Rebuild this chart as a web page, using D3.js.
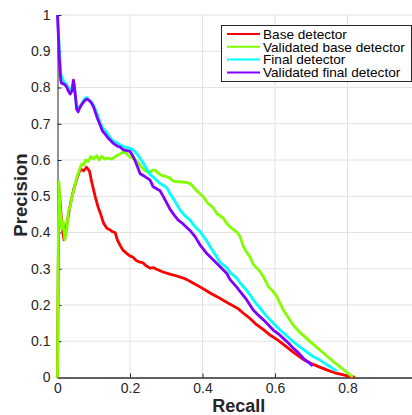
<!DOCTYPE html>
<html><head><meta charset="utf-8">
<script src="https://cdn.jsdelivr.net/npm/d3@7"></script>
<style>
html,body{margin:0;padding:0;background:#fff;}
svg{display:block;font-family:"Liberation Sans",Arial,Helvetica,sans-serif;}
</style></head>
<body>
<svg id="chart" width="412" height="415"></svg>
<script>
const seriesNames = ["Base detector","Validated base detector","Final detector","Validated final detector"];
const seriesColors = ["#ff0000","#80ff00","#00ffff","#8000ff"];

const baseDetector = [[0,0],[0.002,0.3],[0.004,0.52],[0.006,0.5],[0.012,0.42],[0.018,0.38],[0.022,0.4],[0.027,0.43],[0.032,0.46],[0.038,0.49],[0.045,0.52],[0.054,0.55],[0.063,0.575],[0.072,0.57],[0.08,0.58],[0.088,0.57],[0.095,0.537],[0.104,0.499],[0.112,0.47],[0.118,0.454],[0.127,0.426],[0.136,0.412],[0.145,0.407],[0.152,0.402],[0.159,0.4],[0.165,0.38],[0.172,0.366],[0.18,0.352],[0.19,0.343],[0.2,0.335],[0.208,0.332],[0.218,0.322],[0.228,0.318],[0.236,0.316],[0.245,0.308],[0.255,0.302],[0.265,0.303],[0.275,0.298],[0.291,0.291],[0.31,0.285],[0.329,0.28],[0.345,0.275],[0.357,0.27],[0.375,0.26],[0.393,0.25],[0.41,0.24],[0.421,0.233],[0.44,0.223],[0.457,0.213],[0.475,0.203],[0.498,0.19],[0.512,0.178],[0.531,0.163],[0.55,0.145],[0.568,0.132],[0.585,0.118],[0.605,0.105],[0.625,0.09],[0.65,0.07],[0.675,0.052],[0.697,0.04],[0.72,0.03],[0.743,0.021],[0.765,0.013],[0.789,0.007],[0.805,0.003],[0.82,0.001]];

const validatedBaseDetector = [[0,0],[0.002,0.35],[0.004,0.54],[0.007,0.47],[0.012,0.41],[0.016,0.43],[0.02,0.38],[0.024,0.4],[0.026,0.41],[0.03,0.46],[0.035,0.47],[0.038,0.49],[0.045,0.517],[0.054,0.554],[0.063,0.58],[0.068,0.59],[0.072,0.586],[0.078,0.6],[0.085,0.596],[0.092,0.61],[0.1,0.603],[0.108,0.612],[0.115,0.6],[0.122,0.61],[0.13,0.603],[0.14,0.605],[0.15,0.602],[0.16,0.61],[0.17,0.615],[0.18,0.622],[0.19,0.618],[0.2,0.608],[0.209,0.605],[0.218,0.598],[0.228,0.585],[0.237,0.575],[0.246,0.568],[0.255,0.565],[0.262,0.572],[0.269,0.572],[0.28,0.562],[0.291,0.556],[0.301,0.554],[0.31,0.55],[0.319,0.542],[0.33,0.54],[0.338,0.54],[0.356,0.538],[0.366,0.535],[0.375,0.526],[0.384,0.515],[0.393,0.507],[0.402,0.499],[0.415,0.48],[0.43,0.468],[0.439,0.453],[0.457,0.44],[0.467,0.425],[0.48,0.412],[0.494,0.402],[0.503,0.39],[0.513,0.361],[0.522,0.345],[0.531,0.333],[0.54,0.312],[0.559,0.292],[0.568,0.278],[0.582,0.25],[0.595,0.237],[0.605,0.223],[0.623,0.186],[0.637,0.165],[0.65,0.145],[0.668,0.125],[0.687,0.108],[0.705,0.092],[0.724,0.076],[0.742,0.06],[0.761,0.044],[0.785,0.025],[0.807,0.007],[0.815,0.002]];

const finalDetector = [[0,1],[0.003,0.95],[0.005,0.9],[0.007,0.88],[0.009,0.84],[0.011,0.83],[0.016,0.82],[0.02,0.81],[0.025,0.81],[0.03,0.795],[0.034,0.79],[0.04,0.8],[0.044,0.818],[0.048,0.79],[0.053,0.74],[0.058,0.745],[0.067,0.755],[0.075,0.77],[0.08,0.772],[0.088,0.765],[0.094,0.76],[0.1,0.75],[0.106,0.735],[0.112,0.72],[0.117,0.705],[0.124,0.69],[0.131,0.682],[0.14,0.67],[0.15,0.655],[0.163,0.648],[0.172,0.642],[0.185,0.636],[0.2,0.632],[0.209,0.628],[0.218,0.618],[0.228,0.605],[0.237,0.591],[0.246,0.575],[0.255,0.56],[0.264,0.553],[0.283,0.535],[0.301,0.525],[0.31,0.508],[0.322,0.49],[0.338,0.462],[0.35,0.448],[0.366,0.434],[0.38,0.415],[0.393,0.403],[0.411,0.378],[0.421,0.361],[0.439,0.333],[0.448,0.318],[0.467,0.303],[0.476,0.29],[0.494,0.275],[0.503,0.262],[0.522,0.24],[0.531,0.228],[0.545,0.208],[0.559,0.191],[0.572,0.175],[0.586,0.159],[0.6,0.145],[0.614,0.131],[0.632,0.115],[0.65,0.099],[0.668,0.085],[0.687,0.071],[0.705,0.058],[0.724,0.048],[0.742,0.036],[0.755,0.028],[0.77,0.018]];

const validatedFinalDetector = [[0,1],[0.003,0.93],[0.005,0.88],[0.007,0.848],[0.009,0.82],[0.011,0.812],[0.016,0.81],[0.02,0.808],[0.025,0.802],[0.03,0.79],[0.035,0.782],[0.04,0.79],[0.044,0.82],[0.047,0.8],[0.05,0.77],[0.053,0.74],[0.057,0.733],[0.062,0.745],[0.068,0.755],[0.076,0.765],[0.082,0.768],[0.09,0.762],[0.095,0.755],[0.1,0.745],[0.105,0.73],[0.11,0.715],[0.117,0.698],[0.124,0.68],[0.131,0.672],[0.14,0.66],[0.145,0.655],[0.155,0.645],[0.165,0.638],[0.172,0.636],[0.182,0.628],[0.2,0.624],[0.209,0.609],[0.214,0.598],[0.222,0.578],[0.228,0.562],[0.24,0.555],[0.255,0.545],[0.264,0.526],[0.283,0.515],[0.292,0.499],[0.31,0.465],[0.322,0.448],[0.333,0.434],[0.345,0.425],[0.366,0.405],[0.38,0.388],[0.393,0.366],[0.411,0.343],[0.421,0.333],[0.439,0.315],[0.448,0.306],[0.467,0.287],[0.476,0.27],[0.494,0.25],[0.503,0.238],[0.522,0.214],[0.54,0.186],[0.554,0.172],[0.568,0.159],[0.582,0.145],[0.595,0.131],[0.61,0.12],[0.623,0.108],[0.637,0.095],[0.65,0.081],[0.665,0.068],[0.678,0.053],[0.692,0.042],[0.704,0.032]];

const xTicks = [0,0.2,0.4,0.6,0.8];
const yTicks = [0,0.1,0.2,0.3,0.4,0.5,0.6,0.7,0.8,0.9,1];
const xGrid = [0.2,0.4,0.6,0.8,1];
const yGrid = [0.1,0.2,0.3,0.4,0.5,0.6,0.7,0.8,0.9,1];
const xLabel = "Recall", yLabel = "Precision";

const allSeries = [baseDetector, validatedBaseDetector, finalDetector, validatedFinalDetector];

const svg = d3.select("#chart");
const x = d3.scaleLinear().domain([0,1]).range([57.5,420]);
const y = d3.scaleLinear().domain([0,1]).range([377.5,15]);

// grid
const g = svg.append("g");
g.selectAll("line.vg").data(xGrid).join("line")
  .attr("x1",d=>x(d)).attr("x2",d=>x(d)).attr("y1",y(0)).attr("y2",y(1))
  .attr("stroke","#e2e2e2").attr("stroke-width",1);
g.selectAll("line.hg").data(yGrid).join("line")
  .attr("x1",x(0)).attr("x2",x(1)).attr("y1",d=>y(d)).attr("y2",d=>y(d))
  .attr("stroke","#e2e2e2").attr("stroke-width",1);

// axes
const yAxis = svg.append("g").attr("transform",`translate(${x(0)},0)`)
  .call(d3.axisLeft(y).tickValues(yTicks).tickFormat(d3.format("~g")).tickSizeInner(-4).tickSizeOuter(0).tickPadding(7));
const xAxis = svg.append("g").attr("transform",`translate(0,${y(0)})`)
  .call(d3.axisBottom(x).tickValues(xTicks).tickFormat(d3.format("~g")).tickSizeInner(-4).tickSizeOuter(0).tickPadding(6));
[yAxis,xAxis].forEach(a=>{
  a.selectAll("text").attr("font-size",14).attr("fill","#262626").attr("font-family",'"Liberation Sans",Arial,sans-serif');
  a.selectAll("line").attr("stroke","#262626");
});
yAxis.select(".domain").attr("stroke","#262626").attr("stroke-width",1);
xAxis.select(".domain").attr("stroke","#606060").attr("stroke-width",1.8);

// lines
const line = d3.line().x(d=>x(d[0])).y(d=>y(d[1]));
svg.append("g").selectAll("path").data(allSeries).join("path")
  .attr("d",line).attr("fill","none")
  .attr("stroke",(d,i)=>seriesColors[i]).attr("stroke-width",2.8)
  .attr("stroke-linejoin","round").attr("stroke-linecap","butt");

// axis labels
svg.append("text").attr("x",(x(0)+x(1))/2).attr("y",412)
  .attr("text-anchor","middle").attr("font-size",18).attr("font-weight","bold")
  .attr("fill","#262626").text(xLabel);
svg.append("text").attr("transform",`translate(27,195) rotate(-90)`)
  .attr("text-anchor","middle").attr("font-size",18.5).attr("font-weight","bold")
  .attr("fill","#262626").text(yLabel);

// legend
const lg = svg.append("g");
lg.append("rect").attr("x",221.5).attr("y",25.5).attr("width",190).attr("height",56)
  .attr("fill","#fff").attr("stroke","#262626").attr("stroke-width",1);
const rows = lg.selectAll("g.row").data(seriesNames).join("g")
  .attr("transform",(d,i)=>`translate(0,${34 + i*12.8})`);
rows.append("line").attr("x1",227).attr("x2",260).attr("y1",0).attr("y2",0)
  .attr("stroke",(d,i)=>seriesColors[i]).attr("stroke-width",2);
rows.append("text").attr("x",263).attr("y",0).attr("dy","0.35em")
  .attr("font-size",13.6).attr("fill","#000").text(d=>d);
</script>
</body></html>
